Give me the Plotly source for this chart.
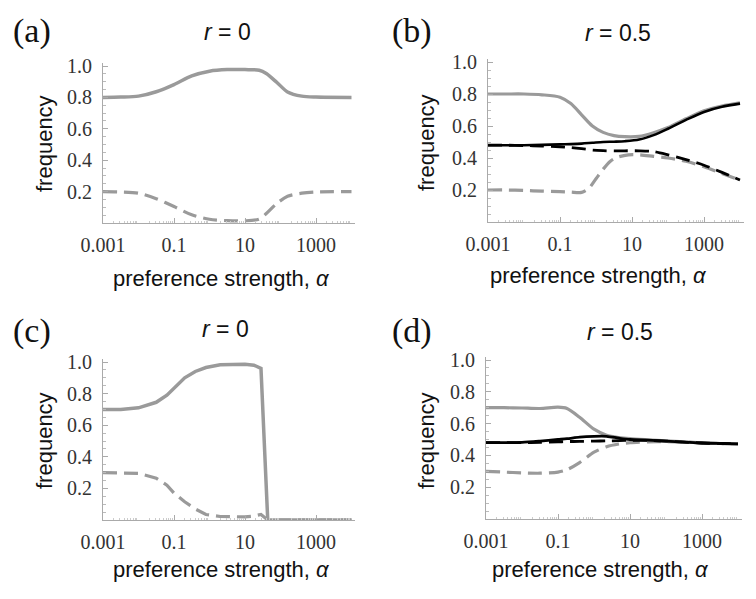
import plotly.graph_objects as go

# The page body has an 8px default margin; the figure is shrunk by that amount
# and every position below is given in screenshot pixels, then shifted by OFF.
OFF = 8
W, H = 756 - OFF, 599 - OFF

# ---------------- data (alpha values, frequencies) ----------------
# Panel (a): r = 0
A_ALPHA = [0.001, 0.00316, 0.01, 0.0316, 0.1, 0.316, 1, 3.16, 10, 25.1, 39.8, 79.4, 158, 398, 1000, 10000]
A_GRAY_SOLID = [0.80, 0.802, 0.808, 0.836, 0.882, 0.937, 0.967, 0.977, 0.977, 0.973, 0.952, 0.895, 0.835, 0.808, 0.802, 0.80]
A_GRAY_DASH = [0.20, 0.198, 0.19, 0.155, 0.105, 0.052, 0.024, 0.015, 0.014, 0.025, 0.06, 0.125, 0.17, 0.19, 0.198, 0.20]

# Panel (b): r = 0.5
B_ALPHA = [0.001, 0.00316, 0.01, 0.0316, 0.1, 0.2, 0.398, 0.794, 1.58, 3.16, 6.31, 15.8, 39.8, 100, 316, 1000, 3162, 10000]
B_GRAY_SOLID = [0.80, 0.80, 0.80, 0.795, 0.78, 0.74, 0.67, 0.60, 0.56, 0.54, 0.533, 0.535, 0.558, 0.59, 0.645, 0.695, 0.725, 0.745]
B_BLACK_SOLID = [0.48, 0.48, 0.48, 0.482, 0.485, 0.487, 0.49, 0.495, 0.50, 0.502, 0.505, 0.515, 0.543, 0.583, 0.638, 0.688, 0.72, 0.74]
B_BLACK_DASH = [0.48, 0.48, 0.478, 0.475, 0.47, 0.465, 0.458, 0.45, 0.446, 0.444, 0.445, 0.445, 0.44, 0.42, 0.39, 0.355, 0.31, 0.262]
B_GRAY_DASH_ALPHA = [0.001, 0.00316, 0.01, 0.0316, 0.1, 0.2, 0.398, 0.631, 1, 1.58, 2.51, 3.98, 7.94, 15.8, 39.8, 100, 316, 1000, 3162, 10000]
B_GRAY_DASH = [0.20, 0.20, 0.197, 0.193, 0.19, 0.187, 0.185, 0.21, 0.27, 0.33, 0.38, 0.405, 0.42, 0.42, 0.41, 0.40, 0.38, 0.345, 0.303, 0.262]

# Panel (c): r = 0
C_ALPHA = [0.001, 0.00316, 0.01, 0.0316, 0.0631, 0.1, 0.2, 0.398, 0.794, 2.0, 5.01, 10, 17.8, 28.2, 43.7, 100, 1000, 10000]
C_GRAY_SOLID = [0.70, 0.70, 0.71, 0.745, 0.79, 0.835, 0.90, 0.94, 0.965, 0.982, 0.985, 0.985, 0.98, 0.96, 0.0, 0.0, 0.0, 0.0]
C_GRAY_DASH = [0.30, 0.30, 0.295, 0.265, 0.22, 0.17, 0.115, 0.07, 0.035, 0.022, 0.02, 0.02, 0.025, 0.035, 0.0, 0.0, 0.0, 0.0]

# Panel (d): r = 0.5
D_ALPHA = [0.001, 0.00316, 0.01, 0.0316, 0.1, 0.178, 0.398, 1, 2.24, 5.01, 10, 31.6, 100, 316, 1000, 3162, 10000]
D_GRAY_SOLID = [0.70, 0.70, 0.698, 0.695, 0.703, 0.695, 0.64, 0.565, 0.527, 0.512, 0.505, 0.498, 0.492, 0.485, 0.478, 0.475, 0.473]
D_BLACK_SOLID = [0.48, 0.48, 0.482, 0.49, 0.50, 0.505, 0.515, 0.52, 0.52, 0.508, 0.50, 0.496, 0.49, 0.484, 0.478, 0.475, 0.473]
D_BLACK_DASH = [0.48, 0.48, 0.48, 0.482, 0.485, 0.487, 0.488, 0.49, 0.491, 0.493, 0.495, 0.494, 0.49, 0.484, 0.478, 0.475, 0.473]
D_GRAY_DASH = [0.30, 0.295, 0.29, 0.288, 0.295, 0.31, 0.355, 0.42, 0.455, 0.472, 0.48, 0.485, 0.487, 0.484, 0.478, 0.475, 0.473]

X_TICKVALS = [0.001, 0.1, 10, 1000]
X_TICKTEXT = ["0.001", "0.1", "10", "1000"]
Y_TICKVALS = [0.2, 0.4, 0.6, 0.8, 1.0]
Y_TICKTEXT = ["0.2", "0.4", "0.6", "0.8", "1.0"]

PANEL_LABELS = ["(a)", "(b)", "(c)", "(d)"]
PANEL_TITLES = ["<i>r</i> = 0", "<i>r</i> = 0.5", "<i>r</i> = 0", "<i>r</i> = 0.5"]
X_TITLE = "preference strength, <i>α</i>"
Y_TITLE = "frequency"

GRAY = "#9a9a9a"
BLACK = "#000000"
AXIS = "#aaaaaa"

# ---------------- layout geometry (screenshot pixels) ----------------
# (left px, x px per decade, bottom px, y px per unit)
GEOM = [
    (103, 35.5, 223, 157),
    (488, 36.0, 222, 160),
    (103, 35.5, 520, 158),
    (486, 36.0, 519, 159),
]
XMAX_LOG = 4.1
YMAX = 1.02

LABEL_POS = [(32, 31), (412, 31), (32, 331), (412, 331)]
TITLE_POS = [(227, 32), (618, 33), (225, 329), (620, 332)]
XTITLE_POS = [(222, 278), (598, 275), (222, 569), (600, 569)]
YTITLE_POS = [(44, 144), (426, 143), (44, 441), (426, 441)]


def fx(p):
    return (p - OFF) / W


def fy(p):
    return 1 - (p - OFF) / H


series = [
    [(A_ALPHA, A_GRAY_SOLID, GRAY, "solid", 3.5), (A_ALPHA, A_GRAY_DASH, GRAY, "dash", 3.2)],
    [(B_ALPHA, B_GRAY_SOLID, GRAY, "solid", 3.2), (B_GRAY_DASH_ALPHA, B_GRAY_DASH, GRAY, "dash", 3.2),
     (B_ALPHA, B_BLACK_SOLID, BLACK, "solid", 2.6), (B_ALPHA, B_BLACK_DASH, BLACK, "dash", 2.8)],
    [(C_ALPHA, C_GRAY_SOLID, GRAY, "solid", 3.5), (C_ALPHA, C_GRAY_DASH, GRAY, "dash", 3.2)],
    [(D_ALPHA, D_GRAY_SOLID, GRAY, "solid", 3.2), (D_ALPHA, D_GRAY_DASH, GRAY, "dash", 3.2),
     (D_ALPHA, D_BLACK_SOLID, BLACK, "solid", 2.8), (D_ALPHA, D_BLACK_DASH, BLACK, "dash", 2.8)],
]

minor_x = [m * 10 ** e for e in range(-3, 5) for m in range(2, 10)]

fig = go.Figure()
layout = dict(
    template="none",
    width=W, height=H, autosize=False, margin=dict(l=0, r=0, t=0, b=0, pad=0, autoexpand=False),
    paper_bgcolor="white", plot_bgcolor="white", showlegend=False,
)
annotations = []

for i in range(4):
    left, ppd, bottom, ppu = GEOM[i]
    right = left + ppd * (XMAX_LOG + 3)
    top = bottom - ppu * YMAX
    sfx = "" if i == 0 else str(i + 1)
    xa, ya = "x" + sfx, "y" + sfx
    layout["xaxis" + sfx] = dict(
        type="log", range=[-3, XMAX_LOG], domain=[fx(left), fx(right)], anchor=ya,
        automargin=False,
        showline=True, linecolor=AXIS, linewidth=1, showgrid=False, zeroline=False,
        ticks="inside", ticklen=5, tickwidth=1, tickcolor=AXIS,
        tickmode="array", tickvals=X_TICKVALS, ticktext=X_TICKTEXT,
        tickfont=dict(family="Liberation Serif", size=20, color="#333333"),
        ticklabelstandoff=4,
        minor=dict(ticks="inside", ticklen=2, tickwidth=1, tickcolor="#cccccc",
                   tickmode="array", tickvals=minor_x, showgrid=False),
        fixedrange=True,
    )
    layout["yaxis" + sfx] = dict(
        range=[0, YMAX], domain=[fy(bottom), fy(top)], anchor=xa,
        automargin=False,
        showline=True, linecolor=AXIS, linewidth=1, showgrid=False, zeroline=False,
        ticks="inside", ticklen=5, tickwidth=1, tickcolor=AXIS,
        tickmode="array", tickvals=Y_TICKVALS, ticktext=Y_TICKTEXT,
        tickfont=dict(family="Liberation Serif", size=20, color="#333333"),
        ticklabelstandoff=6,
        minor=dict(ticks="inside", ticklen=3, tickwidth=1, tickcolor="#bbbbbb",
                   dtick=0.05, tick0=0, showgrid=False),
        fixedrange=True,
    )
    for xs, ys, col, dash, w in series[i]:
        shape = "linear" if i == 2 else "spline"
        fig.add_trace(go.Scatter(
            x=xs, y=ys, mode="lines", xaxis=xa, yaxis=ya,
            line=dict(color=col, width=w, dash="14px,7px" if dash == "dash" else "solid",
                      shape=shape, smoothing=0.8 if shape == "spline" else None),
            hoverinfo="skip",
        ))
    lx, ly = LABEL_POS[i]
    annotations.append(dict(text=PANEL_LABELS[i], x=fx(lx), y=fy(ly), xref="paper", yref="paper",
                            showarrow=False, xanchor="center", yanchor="middle",
                            font=dict(family="Liberation Serif", size=34, color="#111111")))
    tx, ty = TITLE_POS[i]
    annotations.append(dict(text=PANEL_TITLES[i], x=fx(tx), y=fy(ty), xref="paper", yref="paper",
                            showarrow=False, xanchor="center", yanchor="middle",
                            font=dict(family="Liberation Sans", size=23, color="#111111")))
    xx, xy = XTITLE_POS[i]
    annotations.append(dict(text=X_TITLE, x=fx(xx), y=fy(xy), xref="paper", yref="paper",
                            showarrow=False, xanchor="center", yanchor="middle",
                            font=dict(family="Liberation Sans", size=22, color="#111111")))
    yx, yy = YTITLE_POS[i]
    annotations.append(dict(text=Y_TITLE, x=fx(yx), y=fy(yy), xref="paper", yref="paper",
                            showarrow=False, xanchor="center", yanchor="middle", textangle=-90,
                            font=dict(family="Liberation Sans", size=22, color="#111111")))

layout["annotations"] = annotations
fig.update_layout(**layout)
fig.write_html("out.html", config={"displayModeBar": False})
